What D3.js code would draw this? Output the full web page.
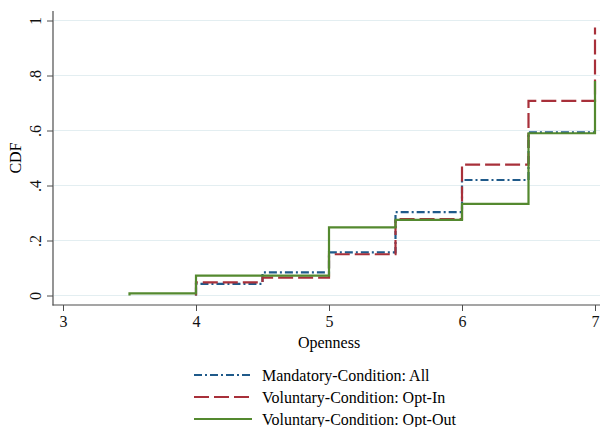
<!DOCTYPE html>
<html>
<head>
<meta charset="utf-8">
<script src="https://cdn.jsdelivr.net/npm/d3@7"></script>
<style>
  body { margin: 0; background: #fff; }
  text { font-family: "Liberation Serif", "Times New Roman", serif; }
</style>
</head>
<body>
<div id="chart"></div>
<script>
// step points (first point starts the step at 0)
var mandX = [4, 4, 4.5, 5, 5.5, 6, 6.5, 7];
var mandY = [0, 0.042, 0.084, 0.157, 0.303, 0.42, 0.593, 0.593];
var optInX = [4, 4, 4.5, 5, 5.5, 6, 6.5, 7];
var optInY = [0, 0.048, 0.065, 0.15, 0.278, 0.476, 0.708, 0.975];
var optOutX = [3.5, 3.5, 4, 4.5, 5, 5.5, 6, 6.5, 7];
var optOutY = [0, 0.008, 0.072, 0.072, 0.248, 0.275, 0.333, 0.59, 0.78];

var xTicks = [3, 4, 5, 6, 7];
var yTicks = [0, 0.2, 0.4, 0.6, 0.8, 1];
var yTickLabels = ["0", ".2", ".4", ".6", ".8", "1"];
var seriesNames = ["Mandatory-Condition: All", "Voluntary-Condition: Opt-In", "Voluntary-Condition: Opt-Out"];

var W = 600, H = 427;
var svg = d3.select("#chart").append("svg")
    .attr("width", W).attr("height", H);

var x = d3.scaleLinear().domain([3, 7]).range([63, 595]);
var y = d3.scaleLinear().domain([0, 1]).range([295.5, 20.5]);

var axisColor = "#4d4d4d";
var fs = 16;

// gridlines
svg.append("g").selectAll("line")
  .data(yTicks)
  .enter().append("line")
    .attr("x1", 54).attr("x2", 600)
    .attr("y1", function(d) { return y(d); })
    .attr("y2", function(d) { return y(d); })
    .attr("stroke", "#e3eef1").attr("stroke-width", 1);

// y axis
var yAxis = svg.append("g")
    .attr("transform", "translate(53,0)")
    .call(d3.axisLeft(y).tickValues(yTicks).tickSize(6)
      .tickFormat(function(d, i) { return yTickLabels[i]; }));
yAxis.select(".domain").remove();
yAxis.selectAll(".tick line").attr("stroke", axisColor);
yAxis.selectAll(".tick text")
    .attr("x", null).attr("dy", null)
    .attr("transform", "translate(-12,0) rotate(-90)")
    .attr("text-anchor", "middle")
    .attr("font-size", fs).attr("fill", "#111");

// x axis
var xAxis = svg.append("g")
    .attr("transform", "translate(0,305)")
    .call(d3.axisBottom(x).tickValues(xTicks).tickSize(6).tickPadding(5)
      .tickFormat(d3.format("d")));
xAxis.select(".domain").remove();
xAxis.selectAll(".tick line").attr("stroke", axisColor);
xAxis.selectAll(".tick text").attr("font-size", fs).attr("fill", "#111");

svg.append("line").attr("x1", 53).attr("x2", 53).attr("y1", 11).attr("y2", 305.5)
    .attr("stroke", axisColor).attr("stroke-width", 1.2);
svg.append("line").attr("x1", 52.5).attr("x2", 600).attr("y1", 305).attr("y2", 305)
    .attr("stroke", axisColor).attr("stroke-width", 1.2);

// axis titles
svg.append("text")
    .attr("x", 329).attr("y", 348)
    .attr("text-anchor", "middle").attr("font-size", fs)
    .text("Openness");
svg.append("text")
    .attr("transform", "translate(21,158) rotate(-90)")
    .attr("text-anchor", "middle").attr("font-size", fs)
    .text("CDF");

var series = [
  {xs: mandX, ys: mandY, color: "#1f5a8a", dash: "8,3,2,3"},
  {xs: optInX, ys: optInY, color: "#a8303a", dash: "15,5"},
  {xs: optOutX, ys: optOutY, color: "#54892f", dash: null}
];

var line = d3.line()
    .x(function(d) { return x(d[0]); })
    .y(function(d) { return y(d[1]); })
    .curve(d3.curveStepAfter);

series.forEach(function(s) {
  var pts = s.xs.map(function(v, i) { return [v, s.ys[i]]; });
  svg.append("path")
    .datum(pts)
    .attr("d", line)
    .attr("fill", "none")
    .attr("stroke", s.color)
    .attr("stroke-width", 2.2)
    .attr("stroke-dasharray", s.dash);
});

// legend
var legend = svg.selectAll("g.legend")
  .data(series).enter().append("g")
    .attr("class", "legend")
    .attr("transform", function(d, i) { return "translate(194," + (375 + i * 22) + ")"; });
legend.append("line")
    .attr("x1", 0).attr("x2", 58)
    .attr("stroke", function(d) { return d.color; })
    .attr("stroke-width", 2.2)
    .attr("stroke-dasharray", function(d) { return d.dash; });
legend.append("text")
    .attr("x", 68).attr("dy", "0.35em")
    .attr("font-size", fs)
    .text(function(d, i) { return seriesNames[i]; });
</script>
</body>
</html>
